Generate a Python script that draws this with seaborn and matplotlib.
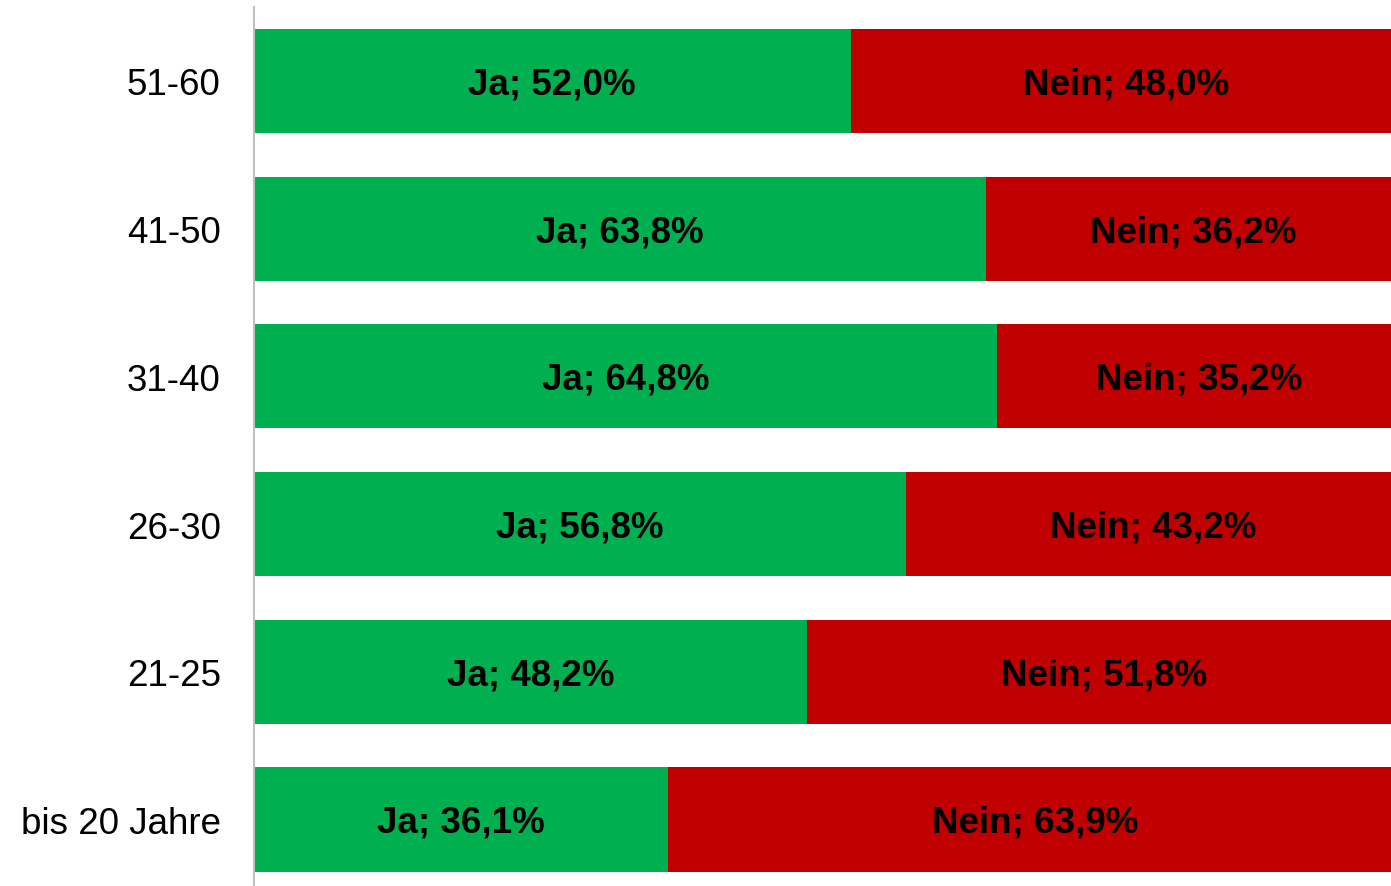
import matplotlib
matplotlib.use("Agg")
import matplotlib.pyplot as plt
import seaborn as sns

# Data: share of answers per age group (top to bottom)
categories = ["51-60", "41-50", "31-40", "26-30", "21-25", "bis 20 Jahre"]
ja = [52.0, 63.8, 64.8, 56.8, 48.2, 36.1]
nein = [48.0, 36.2, 35.2, 43.2, 51.8, 63.9]

green = "#00B050"
red = "#C00000"

sns.set_style("white")
plt.rcParams["font.family"] = ["Liberation Sans", "DejaVu Sans"]

fig = plt.figure(figsize=(13.91, 8.87), dpi=100)
ax = fig.add_axes([254 / 1391, 0.0, 1.0 - 254 / 1391, (887 - 8) / 887])

total = [a + b for a, b in zip(ja, nein)]

# red bars as the full stack, green on top of them
sns.barplot(x=total, y=categories, color=red, width=0.705, orient="h",
            saturation=1, linewidth=0, ax=ax)
sns.barplot(x=ja, y=categories, color=green, width=0.705, orient="h",
            saturation=1, linewidth=0, ax=ax)

for i, (a, b) in enumerate(zip(ja, nein)):
    ax.text(a / 2, i + 0.02, f"Ja; {a:.1f}%".replace(".", ","), ha="center", va="center",
            fontsize=26.5, fontweight="bold", color="black")
    ax.text(a + b / 2, i + 0.02, f"Nein; {b:.1f}%".replace(".", ","), ha="center", va="center",
            fontsize=26.5, fontweight="bold", color="black")

ax.set_xlim(0, 99.1)
ax.set_ylim(5.45, -0.5)
ax.set_xticks([])
ax.set_xlabel("")
ax.set_ylabel("")
ax.tick_params(axis="y", length=0, pad=24, labelsize=26.5, labelcolor="black")

for side in ["top", "right", "bottom"]:
    ax.spines[side].set_visible(False)
ax.spines["left"].set_color("#BFBFBF")
ax.spines["left"].set_linewidth(1.5)

fig.savefig("out.png", dpi=100)
